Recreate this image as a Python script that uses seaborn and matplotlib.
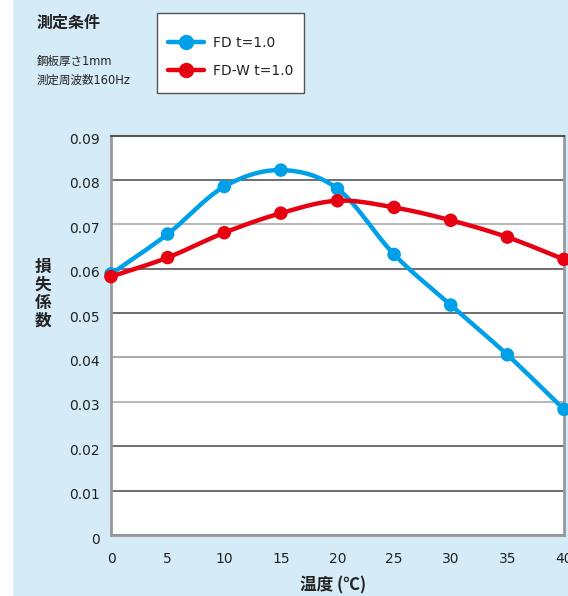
import numpy as np
import pandas as pd
import matplotlib
matplotlib.use("Agg")
import matplotlib.pyplot as plt
import matplotlib.transforms as mtrans
from matplotlib.patches import Rectangle
from matplotlib.lines import Line2D
import seaborn as sns

# ---- data ----
temps = [0, 5, 10, 15, 20, 25, 30, 35, 40]
fd = [0.0588, 0.0678, 0.0785, 0.0822, 0.0780, 0.0632, 0.0518, 0.0406, 0.0283]
fdw = [0.0582, 0.0625, 0.0681, 0.0725, 0.0753, 0.0738, 0.0709, 0.0671, 0.0621]
series_names = ["FD t=1.0", "FD-W t=1.0"]
series_colors = ["#00A0E9", "#E60012"]
yticks = [0, 0.01, 0.02, 0.03, 0.04, 0.05, 0.06, 0.07, 0.08, 0.09]
ytick_labels = ["0", "0.01", "0.02", "0.03", "0.04", "0.05", "0.06", "0.07", "0.08", "0.09"]
xticks = [0, 5, 10, 15, 20, 25, 30, 35, 40]

sns.set_theme(style="white")
plt.rcParams["font.family"] = ["DejaVu Sans", "Noto Sans CJK JP"]
CJK = ["Noto Sans CJK JP", "DejaVu Sans"]

W, H = 568, 596
fig = plt.figure(figsize=(W / 100, H / 100), dpi=100)
fig.patch.set_facecolor("white")
BG = "#D5ECF8"
fig.patches.append(Rectangle((13 / W, 0), 1 - 13 / W, 1, transform=fig.transFigure,
                             facecolor=BG, edgecolor="none", zorder=-10))

ax = fig.add_axes([111 / W, 1 - 535 / H, (564 - 111) / W, (535 - 135.5) / H])
ax.set_facecolor("white")


def catmull(xs, ys, n=20):
    xs = np.asarray(xs, float)
    ys = np.asarray(ys, float)
    px = np.concatenate([[2 * xs[0] - xs[1]], xs, [2 * xs[-1] - xs[-2]]])
    py = np.concatenate([[2 * ys[0] - ys[1]], ys, [2 * ys[-1] - ys[-2]]])
    ox, oy = [], []
    for i in range(1, len(px) - 2):
        t = np.linspace(0, 1, n, endpoint=False)
        for p, o in ((px, ox), (py, oy)):
            p0, p1, p2, p3 = p[i - 1], p[i], p[i + 1], p[i + 2]
            o.extend(0.5 * ((2 * p1) + (-p0 + p2) * t + (2 * p0 - 5 * p1 + 4 * p2 - p3) * t ** 2
                            + (-p0 + 3 * p1 - 3 * p2 + p3) * t ** 3))
    ox.append(xs[-1]); oy.append(ys[-1])
    return np.array(ox), np.array(oy)


for vals, name, col, z in [(fd, series_names[0], series_colors[0], 3), (fdw, series_names[1], series_colors[1], 4)]:
    sx, sy = catmull(temps, vals)
    smooth = pd.DataFrame({"x": sx, "y": sy})
    sns.lineplot(data=smooth, x="x", y="y", ax=ax, color=col, lw=3.2, zorder=z,
                 sort=False, estimator=None)
    pts = pd.DataFrame({"x": temps, "y": vals})
    sns.scatterplot(data=pts, x="x", y="y", ax=ax, color=col, s=95, edgecolor="none",
                    zorder=z + 0.5, clip_on=False)

ax.set_xlim(0, 40)
ax.set_ylim(0, 0.09)
ax.set_xticks(xticks)
ax.set_yticks(yticks)
ax.set_yticklabels(ytick_labels)
ax.set_xlabel("")
ax.set_ylabel("")
ax.tick_params(axis="y", length=0, pad=8, labelsize=10, labelcolor="#222222")
ax.tick_params(axis="x", direction="in", length=7, width=1, color="#888888", pad=12,
               labelsize=10, labelcolor="#222222")
off = mtrans.ScaledTranslation(0, -3 / 100, fig.dpi_scale_trans)
for lab in ax.get_yticklabels():
    lab.set_transform(lab.get_transform() + off)

ax.grid(axis="y", lw=1.2)
grid_colors = ["#555555", "#555555", "#555555", "#AAAAAA", "#999999", "#555555",
               "#555555", "#AAAAAA", "#555555", "#555555"]
for gl, c in zip(ax.get_ygridlines(), grid_colors):
    gl.set_color(c)
ax.grid(axis="x", visible=False)

for side in ["left", "bottom", "right"]:
    ax.spines[side].set_color("#999999")
    ax.spines[side].set_linewidth(2)
ax.spines["top"].set_color("#555555")
ax.spines["top"].set_linewidth(1.5)

# texts
fig.text(37 / W, 1 - 23 / H, "測定条件", fontsize=11.5, fontweight="bold", va="center", ha="left",
         color="#222222", family=CJK)
fig.text(37 / W, 1 - 61 / H, "鋼板厚さ1mm", fontsize=8.3, va="center", ha="left", color="#222222",
         family=["DejaVu Sans", "Noto Sans CJK JP"])
fig.text(37 / W, 1 - 80 / H, "測定周波数160Hz", fontsize=8.3, va="center", ha="left", color="#222222",
         family=["DejaVu Sans", "Noto Sans CJK JP"])
fig.text(43 / W, 1 - 294 / H, "損\n失\n係\n数", fontsize=12, fontweight="bold", va="center", ha="center",
         linespacing=1.0, color="#222222", family=CJK)
fig.text(333 / W, 1 - 585 / H, "温度 (℃)", fontsize=12, fontweight="bold", va="center", ha="center",
         color="#222222", family=CJK)

# legend
fig.patches.append(Rectangle((157 / W, 1 - 93 / H), 147 / W, 80 / H, transform=fig.transFigure,
                             facecolor="white", edgecolor="#555555", lw=1.0, zorder=1))
handles = [Line2D([], [], color=c, lw=3.2, marker="o", markersize=10) for c in series_colors]
leg = fig.legend(handles, series_names, loc="upper left", bbox_to_anchor=(168 / W, 1 - 36 / H),
                 frameon=False, fontsize=10, handlelength=2.6, handletextpad=0.65, labelspacing=1.0,
                 borderpad=0, borderaxespad=0)
leg.set_zorder(5)
for t in leg.get_texts():
    t.set_color("#222222")

fig.savefig("out.png", dpi=100, facecolor=fig.get_facecolor())
